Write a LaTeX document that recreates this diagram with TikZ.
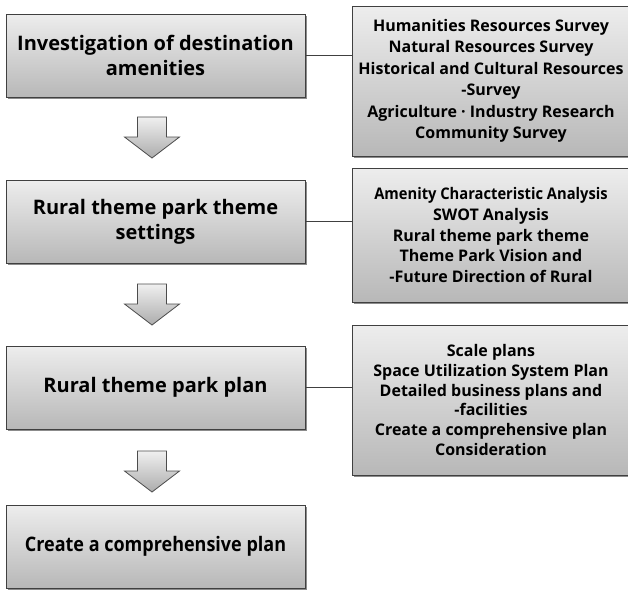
\documentclass[tikz,border=0pt]{standalone}
\usepackage{fontspec}
\usepackage{graphicx}
\setmainfont{Open Sans}
\usetikzlibrary{shadows}
\begin{document}
\begin{tikzpicture}[x=1pt,y=-1pt,
  box/.style={draw=black!75, line width=0.8pt, shade, top color=gray!14, bottom color=gray!56,
    drop shadow={shadow xshift=1.5pt, shadow yshift=-1.5pt, opacity=0.45, fill=black},
    align=center, inner sep=2pt, font=\bfseries},
  leftbox/.style={box, minimum width=299pt, minimum height=83pt, font=\bfseries\fontsize{20}{25}\selectfont},
  rightbox/.style={box, minimum width=278pt, font=\bfseries\fontsize{16}{21.5}\selectfont},
  conn/.style={draw=black!75, line width=0.8pt},
  blockarrow/.style={draw=black!70, line width=0.8pt, shade, top color=gray!12, bottom color=gray!65},
  downarr/.pic={\path[blockarrow] (-14.5,0) -- (14.5,0) -- (14.5,20) -- (27.5,20) -- (0,41) -- (-27.5,20) -- (-14.5,20) -- cycle;}
]
\useasboundingbox (0,0) rectangle (628,592);

\node[leftbox] (b1) at (155.5,55.5) {Investigation of destination\\amenities};
\node[leftbox] (b2) at (155.5,221.5) {Rural theme park theme\\settings};
\node[leftbox] (b3) at (155.5,387.5) {Rural theme park plan};
\node[leftbox] (b4) at (155.5,546.5) {\scalebox{0.9}[1]{Create a comprehensive plan}};

\node[rightbox, minimum height=150pt] (r1) at (491,81) {Humanities Resources Survey\\Natural Resources Survey\\Historical and Cultural Resources\\-Survey\\Agriculture · Industry Research\\Community Survey};
\node[rightbox, minimum height=134pt, font=\bfseries\fontsize{16}{20.8}\selectfont] (r2) at (491,235) {\scalebox{0.92}[1]{Amenity Characteristic Analysis}\\SWOT Analysis\\Rural theme park theme\\Theme Park Vision and\\-Future Direction of Rural};
\node[rightbox, minimum height=150pt, font=\bfseries\fontsize{16}{19.8}\selectfont] (r3) at (491,400) {Scale plans\\Space Utilization System Plan\\Detailed business plans and\\-facilities\\Create a comprehensive plan\\Consideration};

\draw[conn] (b1.east) -- (b1.east -| r1.west);
\draw[conn] (b2.east) -- (b2.east -| r2.west);
\draw[conn] (b3.east) -- (b3.east -| r3.west);

\pic at (152,117) {downarr};
\pic at (152,284) {downarr};
\pic at (152,451) {downarr};
\end{tikzpicture}
\end{document}
